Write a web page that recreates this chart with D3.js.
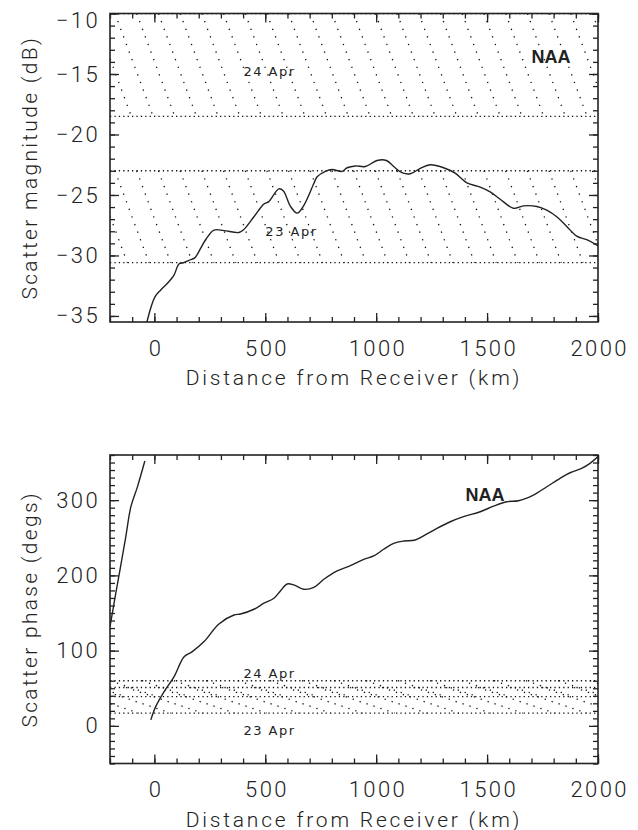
<!DOCTYPE html>
<html>
<head>
<meta charset="utf-8">
<script src="https://cdn.jsdelivr.net/npm/d3@7"></script>
<style>
  body { margin: 0; background: #fff; }
  text { font-family: Roboto, "DejaVu Sans", sans-serif; font-weight: 300; fill: #222; }
</style>
</head>
<body>
<svg id="svg" width="638" height="830"></svg>
<script>
// distance axis, shared by both panels
var distDomain = [-200, 2000],
    distTicks  = [0, 500, 1000, 1500, 2000];

// scatter magnitude (dB) vs distance (km)
var magDist = [-35, 2, 29, 59, 89, 111, 131, 156, 182, 209, 231, 269, 314, 381, 401, 449, 494, 516,
               561, 581, 614, 644, 674, 719, 734, 771, 801, 846, 869, 906, 951, 1004, 1046, 1079,
               1116, 1154, 1199, 1244, 1304, 1356, 1409, 1469, 1514, 1559, 1619, 1664, 1724, 1769,
               1814, 1859, 1904, 1949, 2000];
var magDb   = [-35.6, -33.45, -32.85, -32.3, -31.6, -30.7, -30.6, -30.4, -30.2, -29.4, -28.7, -27.9,
               -27.95, -28.1, -27.9, -26.8, -25.75, -25.55, -24.5, -24.65, -25.95, -26.5, -25.85,
               -24.05, -23.5, -23.05, -22.9, -23.05, -22.75, -22.6, -22.65, -22.15, -22.15, -22.65,
               -23.15, -23.25, -22.8, -22.5, -22.75, -23.2, -24.0, -24.35, -24.75, -25.35, -26.1,
               -25.9, -25.95, -26.25, -26.8, -27.6, -28.4, -28.7, -29.2];
var magYDomain = [-35.5, -10],
    magYTicks  = [-35, -30, -25, -20, -15, -10];
var magBandLo = [-18.5, -30.6],
    magBandHi = [-10, -23];

// scatter phase (degs) vs distance (km), wrapped in two pieces
var phaseLeftDist = [-200, -174, -154, -129, -106, -76, -43],
    phaseLeftDeg  = [132, 176, 209, 251, 291, 318, 352];
var phaseRightDist = [-16, 6, 44, 89, 134, 171, 224, 291, 359, 389, 449, 494, 539, 569, 599, 629,
                      674, 719, 764, 824, 884, 944, 989, 1034, 1079, 1124, 1176, 1221, 1274, 1334,
                      1394, 1469, 1529, 1589, 1641, 1709, 1769, 1829, 1874, 1926, 1964, 2000],
    phaseRightDeg  = [8, 25.6, 45.6, 65.5, 92, 98.7, 112, 135.5, 147.4, 148.7, 155, 163, 169.6,
                      179.7, 188.6, 187.3, 181.5, 184, 194.8, 206, 212.9, 221.4, 225.8, 234.7,
                      242.6, 245.7, 247, 253.7, 262.5, 271.3, 278, 284.6, 292, 297.9, 299.2, 306.8,
                      317.8, 329, 336.4, 342.2, 348.9, 358];
var phaseYDomain = [-50, 360],
    phaseYTicks  = [0, 100, 200, 300];
var phaseBandLo = [39, 17],
    phaseBandHi = [60, 51];

var svg = d3.select("#svg"),
    defs = svg.append("defs");

var L = 110, R = 598;
var ink = "#222", dot = "#111";

function panel(o) {
  var x = d3.scaleLinear().domain(distDomain).range([L, R]),
      y = d3.scaleLinear().domain(o.yDomain).range([o.bottom, o.top]);
  var g = svg.append("g");

  defs.append("clipPath").attr("id", "clip" + o.id)
    .append("rect").attr("x", L).attr("y", o.top).attr("width", R - L).attr("height", o.bottom - o.top);

  // hatched bands
  var hg = g.append("g").attr("clip-path", "url(#clip" + o.id + ")");
  o.bandLo.forEach(function(lo, i) {
    var y0 = y(o.bandHi[i]), y1 = y(lo), hgt = y1 - y0;
    hg.selectAll(null).data([y0, y1]).enter().append("line")
      .attr("x1", L).attr("x2", R).attr("y1", d => d).attr("y2", d => d)
      .attr("stroke", dot).attr("stroke-width", 1.3).attr("stroke-dasharray", "1.3 3.1");
    var ks = d3.range(-Math.ceil(hgt * o.slope / o.gap) - 1, (R - L) / o.gap + 1);
    hg.selectAll(null).data(ks).enter().append("line")
      .attr("x1", k => L + o.phase + i * o.shift + k * o.gap).attr("y1", y0)
      .attr("x2", k => L + o.phase + i * o.shift + k * o.gap + hgt * o.slope).attr("y2", y1)
      .attr("stroke", dot).attr("stroke-width", 1.3).attr("stroke-dasharray", o.dash);
  });

  // curves
  var line = d3.line().x(d => x(d[0])).y(d => y(d[1])).curve(d3.curveCatmullRom.alpha(0.5));
  var cg = g.append("g").attr("clip-path", "url(#clip" + o.id + ")");
  o.series.forEach(function(s) {
    cg.append("path").attr("d", line(d3.zip(s[0], s[1])))
      .attr("fill", "none").attr("stroke", ink).attr("stroke-width", 1.4);
  });

  // axes, ticks inward on all four sides
  function ax(a, t) {
    g.append("g").attr("transform", t).call(a)
      .call(s => s.select(".domain").remove())
      .call(s => s.selectAll("line").attr("stroke", ink).attr("stroke-width", 1.3));
  }
  var dMinor = d3.range(-200, 2001, 100),
      yMinor = d3.range(Math.ceil(o.yDomain[0] / o.yMinorStep), Math.floor(o.yDomain[1] / o.yMinorStep) + 1)
                 .map(v => v * o.yMinorStep);

  ax(d3.axisBottom(x).tickValues(dMinor).tickSize(-5).tickFormat(""), "translate(0," + o.bottom + ")");
  ax(d3.axisTop(x).tickValues(dMinor).tickSize(-5).tickFormat(""), "translate(0," + o.top + ")");
  ax(d3.axisLeft(y).tickValues(yMinor).tickSize(-5).tickFormat(""), "translate(" + L + ",0)");
  ax(d3.axisRight(y).tickValues(yMinor).tickSize(-5).tickFormat(""), "translate(" + R + ",0)");
  ax(d3.axisTop(x).tickValues(distTicks).tickSize(-9).tickFormat(""), "translate(0," + o.top + ")");
  ax(d3.axisRight(y).tickValues(o.yTicks).tickSize(-9).tickFormat(""), "translate(" + R + ",0)");

  var xa = g.append("g").attr("transform", "translate(0," + o.bottom + ")")
    .call(d3.axisBottom(x).tickValues(distTicks).tickSize(-9).tickPadding(18).tickFormat(d3.format("d")));
  var ya = g.append("g").attr("transform", "translate(" + L + ",0)")
    .call(d3.axisLeft(y).tickValues(o.yTicks).tickSize(-9).tickPadding(10).tickFormat(d3.format("d")));
  [xa, ya].forEach(function(a) {
    a.select(".domain").remove();
    a.selectAll("line").attr("stroke", ink).attr("stroke-width", 1.3);
    a.selectAll("text").attr("font-size", 22).attr("letter-spacing", 2.4)
      .attr("fill", ink).attr("font-family", null);
  });
  xa.selectAll("text").attr("dx", 1.2);
  ya.selectAll("text").filter(d => d === o.yDomain[1]).attr("dy", "0.62em");

  g.append("rect").attr("x", L).attr("y", o.top).attr("width", R - L).attr("height", o.bottom - o.top)
    .attr("fill", "none").attr("stroke", ink).attr("stroke-width", 1.6);

  // titles
  g.append("text").attr("x", (L + R) / 2).attr("y", o.bottom + 63)
    .attr("text-anchor", "middle").attr("font-size", 21).attr("letter-spacing", 2.8)
    .text("Distance from Receiver (km)");
  g.append("text").attr("transform", "translate(37," + (o.top + o.bottom) / 2 + ") rotate(-90)")
    .attr("text-anchor", "middle").attr("font-size", 21).attr("letter-spacing", 2.3)
    .text(o.yTitle);

  // annotations
  o.notes.forEach(function(n) {
    var t = g.append("text").attr("x", x(n[0])).attr("y", y(n[1]))
      .attr("text-anchor", "middle").text(n[2]);
    if (n[3]) t.style("font-family", "'Liberation Sans', Arial, sans-serif").style("font-weight", 700)
               .style("font-size", "18px");
    else t.style("font-family", "'DejaVu Sans', sans-serif").style("font-weight", 400)
          .style("font-size", "13px").attr("letter-spacing", 1.5);
  });
}

panel({
  id: 1, top: 13.5, bottom: 322,
  yDomain: magYDomain, yTicks: magYTicks, yMinorStep: 1,
  bandLo: magBandLo, bandHi: magBandHi,
  gap: 21.7, slope: 0.37, phase: 5, shift: 0, dash: "1.3 6.8",
  series: [[magDist, magDb]],
  yTitle: "Scatter magnitude (dB)",
  notes: [[519, -15.2, "24 Apr"], [618, -28.4, "23 Apr"], [1788, -14.1, "NAA", 1]]
});

panel({
  id: 2, top: 455, bottom: 763.5,
  yDomain: phaseYDomain, yTicks: phaseYTicks, yMinorStep: 10,
  bandLo: phaseBandLo, bandHi: phaseBandHi,
  gap: 32, slope: 3, phase: 0, shift: 16, dash: "1.3 6",
  series: [[phaseLeftDist, phaseLeftDeg], [phaseRightDist, phaseRightDeg]],
  yTitle: "Scatter phase (degs)",
  notes: [[519, 63.7, "24 Apr"], [519, -12, "23 Apr"], [1491, 299, "NAA", 1]]
});
</script>
</body>
</html>
